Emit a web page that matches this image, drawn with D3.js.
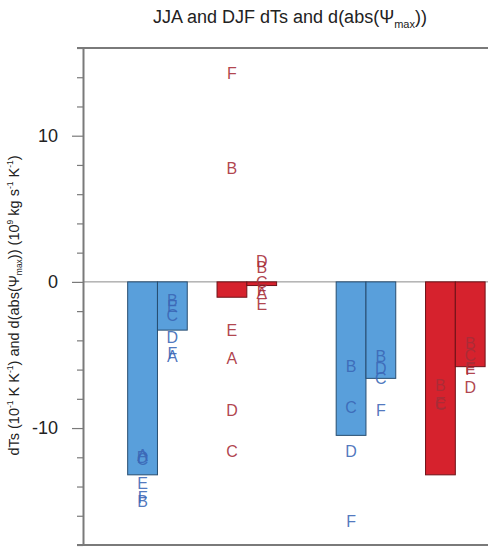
<!DOCTYPE html>
<html>
<head>
<meta charset="utf-8">
<script src="https://cdn.jsdelivr.net/npm/d3@7"></script>
<style>
  body { margin: 0; background: #fff; }
  svg { display: block; font-family: "Liberation Sans", Arial, sans-serif; }
</style>
</head>
<body>
<div id="chart-area"></div>
<script>
const width = 488, height = 552;
const margin = { left: 83, top: 48, bottom: 7, plotRight: 500 };

// bar order: pair 1 (JJA), pair 2 (DJF), pair 3 (JJA), pair 4 (DJF); two bars each
const seasons = ["JJA", "DJF", "JJA", "DJF"];
const barsFirst = [-13.2, -1.05, -10.5, -13.2];
const barsSecond = [-3.3, -0.25, -6.6, -5.8];

// member letters, one value per bar (8 bars), null = not shown
const modelNames = ["A", "B", "C", "D", "E", "F"];
const modelA = [-11.85, -5.1, -5.2, -0.8, null, null, null, null];
const modelB = [-15.0, -1.25, 7.8, 1.0, -5.8, -5.1, -7.1, -4.2];
const modelC = [-12.1, -2.3, -11.6, 0.0, -8.6, -6.6, -8.4, -5.0];
const modelD = [-12.0, -3.8, -8.8, 1.4, -11.6, -5.9, null, -7.2];
const modelE = [-13.8, -1.7, -3.3, -1.5, null, null, -8.3, -5.9];
const modelF = [-14.7, -4.9, 14.3, -0.6, -16.4, -8.8, null, -6.0];

const yTicks = [-10, 0, 10];
const title = "JJA and DJF dTs and d(abs(Ψ";

const fillColor = { JJA: "#599fdb", DJF: "#d6222d" };
const edgeColor = { JJA: "#274d70", DJF: "#6e1218" };
const textColor = { JJA: "#3b67b6", DJF: "#a72d38" };

const svg = d3.select("#chart-area").append("svg")
    .attr("width", width)
    .attr("height", height);

const y = d3.scaleLinear().domain([-18, 16]).range([545, 48]);
const x = d3.scaleLinear().domain([0, 14]).range([margin.left, margin.plotRight]);

// bar slot position in x units
const slot = (g, b) => 1.5 + Math.floor(g / 2) * 7 + (g % 2) * 3 + b;

const bars = [];
seasons.forEach((s, g) => {
    bars.push({ season: s, pos: slot(g, 0), value: barsFirst[g] });
    bars.push({ season: s, pos: slot(g, 1), value: barsSecond[g] });
});

const plot = svg.append("g");

// zero line
plot.append("line")
    .attr("x1", x(0)).attr("x2", width)
    .attr("y1", y(0)).attr("y2", y(0))
    .attr("stroke", "#8a8a8a").attr("stroke-width", 1);

plot.selectAll("rect.bar").data(bars).enter().append("rect")
    .attr("class", "bar")
    .attr("x", d => x(d.pos))
    .attr("width", x(1) - x(0))
    .attr("y", d => y(Math.max(0, d.value)))
    .attr("height", d => Math.abs(y(d.value) - y(0)))
    .attr("fill", d => fillColor[d.season])
    .attr("stroke", d => edgeColor[d.season])
    .attr("stroke-width", 1);

// letters
const models = [modelA, modelB, modelC, modelD, modelE, modelF];
const letters = [];
models.forEach((vals, m) => {
    vals.forEach((v, i) => {
        if (v === null) return;
        letters.push({ name: modelNames[m], value: v, bar: bars[i] });
    });
});

plot.selectAll("text.model").data(letters).enter().append("text")
    .attr("class", "model")
    .attr("x", d => x(d.bar.pos + 0.5))
    .attr("y", d => y(d.value))
    .attr("dy", "0.36em")
    .attr("text-anchor", "middle")
    .attr("font-size", "16px")
    .attr("fill", d => textColor[d.bar.season])
    .attr("fill-opacity", 0.9)
    .text(d => d.name);

// frame top / bottom
[16, -18].forEach(v => {
    svg.append("line")
        .attr("x1", 77).attr("x2", width)
        .attr("y1", y(v)).attr("y2", y(v))
        .attr("stroke", "#7a7a7a").attr("stroke-width", 2);
});

// y axis
const yAxis = d3.axisLeft(y)
    .tickValues(d3.range(-18, 17, 2))
    .tickSizeOuter(0)
    .tickFormat(d => yTicks.includes(d) ? d3.format("d")(d).replace("−", "-") : "");

const yAxisG = svg.append("g")
    .attr("transform", `translate(${margin.left},0)`)
    .call(yAxis);
yAxisG.select(".domain").attr("stroke", "#7a7a7a").attr("stroke-width", 2);
yAxisG.selectAll(".tick line")
    .attr("stroke", "#7a7a7a")
    .attr("stroke-width", 1.2)
    .attr("x2", d => yTicks.includes(d) ? -11 : -6);
yAxisG.selectAll(".tick text")
    .attr("x", -25)
    .attr("font-size", "18px")
    .attr("font-family", "Liberation Sans, Arial, sans-serif")
    .attr("fill", "#222");

// title
const t = svg.append("text")
    .attr("x", 290).attr("y", 23)
    .attr("text-anchor", "middle")
    .attr("font-size", "18px")
    .attr("fill", "#222");
t.append("tspan").text(title);
t.append("tspan").attr("dy", 5).attr("font-size", "11px").text("max");
t.append("tspan").attr("dy", -5).text("))");

// y label
const yl = svg.append("text")
    .attr("transform", `translate(19,${(y(16) + y(-18)) / 2 + 9}) rotate(-90)`)
    .attr("text-anchor", "middle")
    .attr("font-size", "14.5px")
    .attr("fill", "#222");
const parts = [
    ["dTs (10", 0], ["-1", -1], [" K K", 0], ["-1", -1], [") and d(abs(Ψ", 0],
    ["max", 1], [")) (10", 0], ["9", -1], [" kg s", 0], ["-1", -1], [" K", 0], ["-1", -1], [")", 0]
];
const shiftPx = s => (s === -1 ? -6 : s === 1 ? 3 : 0);
let prev = 0;
parts.forEach(([s, shift]) => {
    yl.append("tspan")
        .attr("dy", shiftPx(shift) - shiftPx(prev))
        .attr("font-size", shift === 0 ? "14.5px" : "8.5px")
        .text(s);
    prev = shift;
});
</script>
</body>
</html>
